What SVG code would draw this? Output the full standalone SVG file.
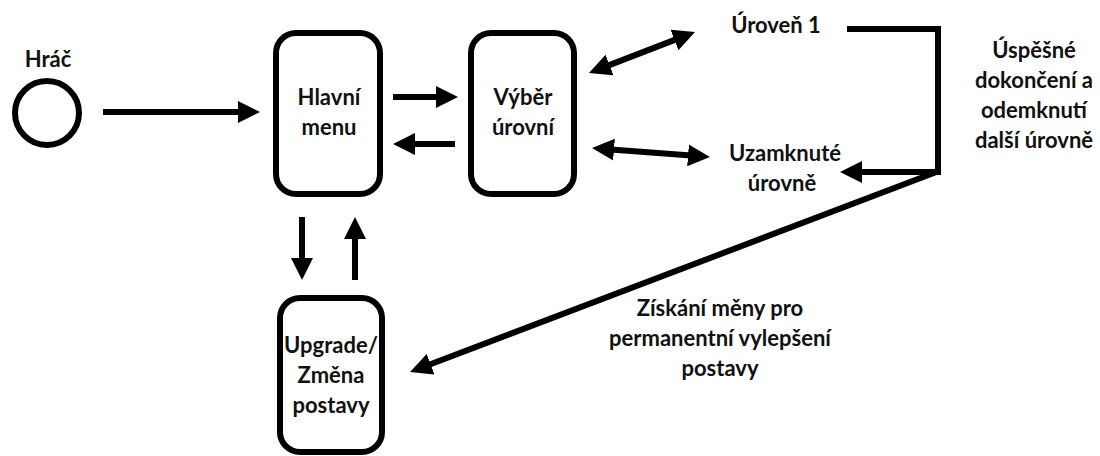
<svg xmlns="http://www.w3.org/2000/svg" width="1100" height="456" viewBox="0 0 1100 456">
<style>
text{font-family:Lato,"Open Sans","Liberation Sans",sans-serif;font-weight:bold;font-size:22px;fill:#111;text-anchor:middle}
.box{fill:#fff;stroke:#000;stroke-width:6}
.c{fill:none;stroke:#000;stroke-width:6}
</style>
<defs>
<marker id="ah" viewBox="0 0 22 22" refX="3" refY="11" markerWidth="22" markerHeight="22" markerUnits="userSpaceOnUse" orient="auto-start-reverse">
<path d="M0,0 L22,11 L0,22 z" fill="#000"/>
</marker>
</defs>
<rect width="1100" height="456" fill="#fff"/>
<g id="hrac">
<circle cx="47" cy="113" r="32" class="box"/>
<text x="48" y="67">Hráč</text>
</g>
<g id="hlavni-menu">
<rect x="276" y="33" width="104" height="161" rx="20" class="box"/>
<text x="329" y="105">Hlavní</text>
<text x="329" y="135">menu</text>
</g>
<g id="vyber-urovni">
<rect x="471" y="33" width="103" height="161" rx="20" class="box"/>
<text x="523" y="105">Výběr</text>
<text x="523" y="135">úrovní</text>
</g>
<g id="upgrade">
<rect x="280" y="298" width="102" height="154" rx="20" class="box"/>
<text x="331" y="353">Upgrade/</text>
<text x="331" y="383">Změna</text>
<text x="331" y="413">postavy</text>
</g>
<g id="uroven1">
<text x="776" y="33">Úroveň 1</text>
</g>
<g id="uzamknute">
<text x="785" y="161">Uzamknuté</text>
<text x="782" y="191">úrovně</text>
</g>
<g id="labels">
<text x="1034" y="58">Úspěšné</text>
<text x="1034" y="88">dokončení a</text>
<text x="1034" y="118">odemknutí</text>
<text x="1034" y="148">další úrovně</text>
<text x="720" y="316">Získání měny pro</text>
<text x="720" y="346">permanentní vylepšení</text>
<text x="720" y="376">postavy</text>
</g>
<g id="connectors">
<path class="c" d="M103,112 L241,112" marker-end="url(#ah)"/>
<path class="c" d="M393,97 L439,97" marker-end="url(#ah)"/>
<path class="c" d="M455,144 L412,144" marker-end="url(#ah)"/>
<path class="c" d="M606.7,66.1 L677.3,38.9" marker-start="url(#ah)" marker-end="url(#ah)"/>
<path class="c" d="M611,149.4 L691,155.6" marker-start="url(#ah)" marker-end="url(#ah)"/>
<path class="c" d="M847,29 L938,29 L938,172 L859,172" marker-end="url(#ah)"/>
<path class="c" d="M939,171 L427.8,365.3" marker-end="url(#ah)"/>
<path class="c" d="M302,217 L302,261" marker-end="url(#ah)"/>
<path class="c" d="M355,280 L355,236" marker-end="url(#ah)"/>
</g>
</svg>
